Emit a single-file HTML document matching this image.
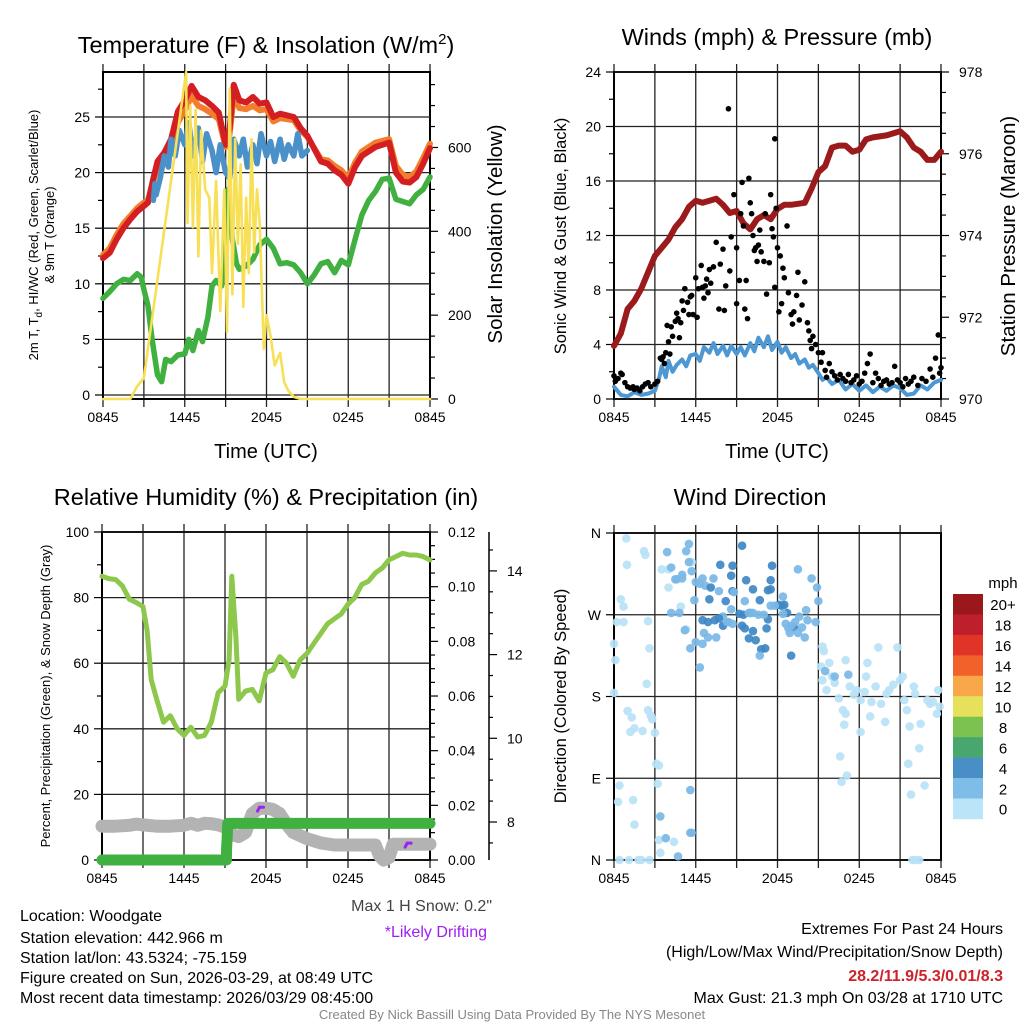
<!DOCTYPE html>
<html><head><meta charset="utf-8">
<style>
body{margin:0;background:#fff}
svg{display:block;font-family:"Liberation Sans",Arial,sans-serif}
</style></head>
<body>
<svg id="chart" width="1024" height="1024" viewBox="0 0 1024 1024">
<rect x="0" y="0" width="1024" height="1024" fill="#fff"/>
<text x="266" y="53" font-size="23.5" text-anchor="middle">Temperature (F) &amp; Insolation (W/m<tspan dy="-9" font-size="15">2</tspan><tspan dy="9">)</tspan></text>
<text x="777" y="45" font-size="23.5" text-anchor="middle">Winds (mph) &amp; Pressure (mb)</text>
<text x="266" y="505" font-size="23.5" text-anchor="middle">Relative Humidity (%) &amp; Precipitation (in)</text>
<text x="750" y="505" font-size="23.5" text-anchor="middle">Wind Direction</text>

<text x="266" y="458" font-size="20" text-anchor="middle">Time (UTC)</text>
<text x="777" y="458" font-size="20" text-anchor="middle">Time (UTC)</text>

<text transform="translate(38,235) rotate(-90)" font-size="13" text-anchor="middle">2m T, T<tspan dy="4" font-size="10">d</tspan><tspan dy="-4">, HI/WC (Red, Green, Scarlet/Blue)</tspan></text>
<text transform="translate(54,235) rotate(-90)" font-size="13" text-anchor="middle">&amp; 9m T (Orange)</text>
<text transform="translate(502,234) rotate(-90)" font-size="20.5" text-anchor="middle">Solar Insolation (Yellow)</text>
<text transform="translate(566,236) rotate(-90)" font-size="16.5" text-anchor="middle">Sonic Wind &amp; Gust (Blue, Black)</text>
<text transform="translate(1015,236) rotate(-90)" font-size="20.5" text-anchor="middle">Station Pressure (Maroon)</text>
<text transform="translate(50,696) rotate(-90)" font-size="13" text-anchor="middle">Percent, Precipitation (Green), &amp; Snow Depth (Gray)</text>
<text transform="translate(566,696) rotate(-90)" font-size="16.5" text-anchor="middle">Direction (Colored By Speed)</text>

<text x="492" y="911" font-size="16" text-anchor="end" fill="#444">Max 1 H Snow: 0.2"</text>
<text x="487" y="937" font-size="16" text-anchor="end" fill="#a020f0">*Likely Drifting</text>

<g font-size="16">
<text x="20" y="921">Location: Woodgate</text>
<text x="20" y="943">Station elevation: 442.966 m</text>
<text x="20" y="963">Station lat/lon: 43.5324; -75.159</text>
<text x="20" y="983">Figure created on Sun, 2026-03-29, at 08:49 UTC</text>
<text x="20" y="1003">Most recent data timestamp: 2026/03/29 08:45:00</text>
</g>
<g font-size="16" text-anchor="end">
<text x="1003" y="934">Extremes For Past 24 Hours</text>
<text x="1003" y="957">(High/Low/Max Wind/Precipitation/Snow Depth)</text>
<text x="1003" y="981" font-weight="bold" fill="#cc2229">28.2/11.9/5.3/0.01/8.3</text>
<text x="1003" y="1003">Max Gust: 21.3 mph On 03/28 at 1710 UTC</text>
</g>
<text x="512" y="1019" font-size="13" text-anchor="middle" fill="#888">Created By Nick Bassill Using Data Provided By The NYS Mesonet</text>
</svg>
<script>
// ---------- data ----------
const timeTickHours=[0,6,12,18,24];
const timeTickLabels=['0845','1445','2045','0245','0845'];
const tempTicks=[0,5,10,15,20,25];
const insTicks=[0,200,400,600];
const windTicks=[0,4,8,12,16,20,24];
const presTicks=[970,972,974,976,978];
const rhTicks=[0,20,40,60,80,100];
const precipTicks=[0,0.02,0.04,0.06,0.08,0.10,0.12];
const snowTicks=[8,10,12,14];
const dirTicks=[0,90,180,270,360];
const dirLabels=['N','E','S','W','N'];

const tempTimes=[0,0.5,1,1.5,2,2.5,3,3.3,3.7,4,4.5,5,5.5,6,6.5,7,7.5,8,8.5,9,9.3,9.6,10,10.5,11,11.5,12,12.5,13,14,14.5,15,16,16.5,17,17.5,18,18.5,19,20,21,21.5,22,22.5,23,23.5,24];
const tempRed=[12.3,12.8,14,15,15.8,16.5,17,17.3,19.5,21,21.8,23,25.5,26.5,27.8,26.8,26.5,26,25.4,22.5,24,27.9,26.5,26.3,26.8,26.2,26.3,25,25.3,25,24,23.3,21,20.8,20.2,19.8,19,20.5,21.5,22.3,22.7,20,19.2,19.1,19.6,20.8,22.2];
const temp9m=[12.6,13.2,14.4,15.4,16.1,16.8,17.3,17.5,19.3,20.6,21.2,22.3,24.5,25.6,26.9,26.0,25.7,25.3,24.8,22.3,23.5,27.0,25.8,25.7,26.0,25.6,25.7,24.6,24.9,24.7,23.8,23.2,21.2,21.1,20.6,20.2,19.5,20.9,21.9,22.7,23.0,20.6,19.8,19.6,20.1,21.3,22.6];
const hiwcTimes=[3.7,3.8,3.9,4.2,4.5,4.8,5,5.3,5.6,6,6.3,6.6,7,7.3,7.6,8,8.3,8.6,9,9.3,9.6,10,10.3,10.6,11,11.3,11.6,12,12.3,12.6,13,13.3,13.6,14,14.3,14.6,15];
const hiwc=[17.5,19,18,19.5,21.5,20.5,23,21.5,23.8,22.5,24.5,21.5,24,21,23.5,22,20,22.5,20,19.5,23,21.5,23,20.5,22.5,20.8,23.5,21.5,22.8,21,23,21.2,22.5,21.5,23.5,21.5,22];
const tdTimes=[0,0.5,1,1.5,2,2.5,2.8,3,3.3,3.6,4,4.3,4.6,5,5.5,6,6.3,6.6,7,7.3,7.7,8,8.3,8.7,9,9.2,9.5,9.8,10,10.5,11,11.5,12,12.5,13,13.5,14,14.5,15,15.5,16,16.5,17,17.5,18,18.5,19,19.5,20,20.5,21,21.5,22,22.5,23,23.5,24];
const dewpoint=[8.7,9.3,10,10.4,10.3,10.9,10.6,9.5,8,5,1.8,1.2,3.2,3,3.6,3.7,5,4,5.8,4.8,7,9.8,10.3,9.8,13,18.5,14,11.8,11.3,11.6,12.2,13.5,14,13.2,11.8,11.9,11.7,11,10,10.8,11.8,12,11,12.1,11.7,14,16.2,17.5,18.3,19.4,19.5,17.6,17.4,17.2,18,18.5,19.6];
const insTimes=[0,2,2.5,3,6.1,6.2,6.4,6.6,6.8,7.0,7.2,7.5,7.8,8,8.3,8.6,8.9,9.1,9.3,9.5,9.7,9.9,10.1,10.3,10.5,10.7,10.9,11.1,11.3,11.5,11.8,12,12.3,12.6,13,13.3,13.6,14,14.5,24];
const insolation=[0,0,30,50,780,420,700,410,690,340,640,500,480,300,520,210,500,160,740,250,620,370,560,220,480,300,620,350,500,420,120,200,150,80,110,40,20,5,0,0];

const presTimes=[0,0.5,1,1.5,2,2.5,3,3.5,4,4.5,5,5.5,6,6.5,7,7.5,8,8.5,9,9.5,10,10.5,11,11.5,12,12.5,13,14,14.5,15,15.5,16,16.5,17,17.5,18,18.5,19,20,21,21.5,22,22.5,23,23.5,24];
const pressure=[971.3,971.6,972.2,972.4,972.7,973.1,973.5,973.7,973.9,974.2,974.4,974.7,974.85,974.8,974.85,974.9,974.75,974.55,974.6,974.3,974.15,974.4,974.5,974.4,974.65,974.75,974.75,974.8,975.15,975.55,975.7,976.15,976.2,976.2,976.05,976.1,976.35,976.4,976.45,976.55,976.4,976.15,976.05,975.85,975.85,976.05];
const sonicTimes=[0,0.5,1,1.5,2,2.5,3,3.3,3.5,3.8,4,4.3,4.6,5,5.3,5.6,6,6.3,6.6,7,7.3,7.6,8,8.3,8.6,9,9.3,9.6,10,10.3,10.6,11,11.3,11.6,12,12.3,12.6,13,13.3,13.6,14,14.3,14.6,15,15.3,15.6,16,16.5,17,17.5,18,18.5,19,19.5,20,20.5,21,21.5,22,22.5,23,23.5,24];
const sonicWind=[0.9,0.3,0.2,0.5,0.3,0.4,0.6,1.5,2.4,1.6,2.8,2.0,2.5,2.9,2.4,3.2,3.3,2.8,3.8,3.4,4.1,3.3,3.9,3.2,3.9,3.3,3.8,3.2,4.1,3.5,4.5,3.8,4.6,3.6,4.2,3.4,3.8,3.0,3.3,2.6,2.9,2.3,2.5,1.9,1.4,1.6,1.1,1.4,0.7,1.1,0.6,1.0,0.5,0.9,0.6,1.0,0.8,0.3,0.4,1.0,0.7,1.2,1.4];
const gustTimes=[0,0.1,0.3,0.5,0.6,0.8,1,1.2,1.4,1.5,1.7,1.9,2.1,2.3,2.5,2.7,3,3.2,3.4,3.5,3.6,3.7,3.8,3.9,4,4.1,4.2,4.3,4.5,4.6,4.7,4.8,4.9,5,5.1,5.2,5.4,5.5,5.6,5.7,5.8,6,6.1,6.2,6.4,6.5,6.6,6.7,6.8,6.9,7,7.1,7.3,7.5,7.7,7.8,8,8.1,8.2,8.4,8.5,8.6,8.8,9,9,9.2,9.3,9.4,9.5,9.6,9.7,9.8,9.9,10,10.1,10.2,10.3,10.4,10.5,10.6,10.7,10.8,11,11.1,11.2,11.4,11.5,11.6,11.7,11.8,11.8,11.9,12,12.1,12.2,12.3,12.4,12.5,12.7,12.8,13,13.1,13.2,13.4,13.5,13.6,13.8,14,14.2,14.3,14.4,14.5,14.6,14.8,15,15.2,15.3,15.5,15.6,15.8,16,16.2,16.4,16.6,16.8,17,17.2,17.4,17.6,17.8,18,18.2,18.4,18.6,18.8,19,19.2,19.4,19.6,19.8,20,20.2,20.4,20.6,20.8,21,21.2,21.4,21.6,21.8,22,22.3,22.6,22.9,23.2,23.4,23.6,23.8,23.9,24];
const gustVals=[1.7,1.3,1.5,1.9,1.8,1.2,0.9,0.8,0.9,0.7,0.8,0.6,0.9,1.1,1.2,0.9,1.1,1.3,3.0,2.9,3.1,2.6,3.4,5.4,4.2,3.3,5.3,4.6,5.7,6.3,5.9,4.5,5.6,7.2,6.5,8.1,7.1,6.2,7.5,7.6,6.2,8.9,6.0,8.1,9.8,8.2,7.4,8.3,8.8,7.8,9.5,8.5,9.7,11.5,6.6,9.9,11.0,6.5,8.3,21.3,9.4,11.9,15.0,11.1,7.0,8.7,13.6,15.9,12.7,6.6,8.7,5.9,16.2,14.4,13.6,12.0,10.9,11.1,10.1,11.3,12.4,10.8,10.1,13.6,7.7,10.0,15.0,12.5,11.9,8.2,19.1,14.0,11.1,6.4,10.5,7.0,9.6,8.9,12.7,7.8,6.2,5.5,6.4,7.6,9.3,5.8,6.9,8.6,5.6,5.0,4.3,3.7,4.6,4.0,3.4,2.7,3.4,2.1,1.6,2.6,2.0,1.7,1.4,1.8,1.5,1.3,1.8,1.2,1.4,1.7,1.1,1.3,1.9,2.6,3.3,1.2,1.9,1.5,1.0,1.3,1.4,1.1,1.2,2.4,1.4,1.2,0.9,1.5,1.1,1.3,1.6,1.0,1.5,1.3,2.2,1.6,3.0,4.7,1.9,2.3];

const rhTimes=[0,0.5,1,1.5,2,2.5,3,3.3,3.6,4,4.5,5,5.5,6,6.5,7,7.5,8,8.5,9,9.3,9.5,9.8,10,10.5,11,11.5,12,12.5,13,13.5,14,14.5,15,15.5,16,16.5,17,17.5,18,18.5,19,19.5,20,20.5,21,21.5,22,22.5,23,23.5,24];
const rhVals=[86.5,85.8,85.5,83.5,79.5,78.5,77.3,70,55,49,42,44,40,38,40.5,37.5,38,42,51,53,61,86.5,68,49,51.5,52,48.5,57,58,62,60,56,61,63,66,69,72,73.5,75,78,80,84,85,87.5,89,91.5,92.5,93.5,93,93,92.5,91.5];
const precipTimes=[0,9.1,9.12,9.15,9.2,24];
const precipVals=[0,0,0.0045,0.0075,0.0134,0.0134];
const snowTimes=[0,1,2,2.5,3,4,5,6,6.5,7,7.5,8,8.5,9,9.5,10,10.5,11,11.5,12,12.5,13,13.5,14,15,16,17,18,19,20,20.3,20.6,21,21.3,22,23,24];
const snowVals=[7.9,7.9,7.92,7.95,7.93,7.9,7.9,7.92,7.97,7.92,7.97,7.96,7.93,7.88,7.7,7.65,7.75,8.2,8.33,8.33,8.3,8.2,7.95,7.75,7.6,7.5,7.45,7.45,7.45,7.45,7.2,7.09,7.15,7.47,7.47,7.47,7.47];
const driftTimes=[11.6,22.4];
const driftVals=[8.33,7.47];

const dirHours=[0.9,0.95,2.2,2.3,3.5,0.7,0.5,0.2,0.7,0,0.1,2.5,2.6,2.4,0,1,1.3,1.5,1.2,2.7,2.8,2.1,2.5,3,3.1,3.3,3.2,0.4,0.3,1.4,1.5,0.4,1.1,1.8,2,2.6,3.4,3.3,4.4,5.3,4.9,5.7,4,4,
3.9,4.2,4.6,4.5,5,5,5.3,5.5,5.5,5.7,6,5.9,4.2,4.8,5.2,6.3,6.5,6.7,7.3,7.7,6,6.5,6.6,6.9,7.5,8,8.4,8.7,6.3,5.6,3.4,5.6,3.8,4.7,5.6,5.7,
7.8,8.7,8.6,8.2,7.0,7.1,6.5,6.9,7.4,7.7,8.0,9.2,9.5,10.0,9.4,9.6,9.9,10.2,10.8,11.1,10.4,11.2,11.5,11.6,11.5,11.3,12.1,12.5,12.7,13.2,13,9.4,8.7,9.7,10.7,10.2,11.3,12.3,
8.8,8.3,8.6,9.9,9.6,10.2,10.6,11.0,11.8,12.4,12.6,12.8,13,12.9,13.3,13.6,13.8,14,14.2,14.5,14.9,15,14.8,13.5,10.7,11.5,13.5,14.1,12.4,
15.3,15.4,15.2,15.3,15.8,16,16.2,15.6,16.5,16.8,17,16.9,16.6,17.1,16.7,17,17.3,17.6,17.8,18.1,18.1,18.4,18.5,18.6,19.4,18.8,18.9,19.2,19.6,19.9,20,20.2,20.5,20.8,21,21.2,21.3,21.5,21.7,21.6,21.8,22,22.1,22.4,22.5,22.8,23,23.2,23.4,23.7,23.8,23.9,21.9,22.1,22.4,16.2,17.2,15.5];
const dirDegs=[354,325,340,336,320,279,287,262,262,238,220,263,233,194,184,164,157,145,141,159,155,142,165,140,106,104,84,82,64,66,39,0,0,0,0,0,8,22,20,254,279,328,320,300,
339,322,309,309,314,310,340,348,328,318,306,286,272,272,253,304,310,302,310,296,240,238,250,245,245,268,262,260,212,233,48,30,24,4,77,30,
325,296,313,285,287,300,264,262,264,266,258,271,270,272,258,255,244,252,232,233,242,255,308,324,298,297,281,281,272,256,225,346,324,308,286,298,265,280,
295,262,276,272,285,272,270,270,280,271,260,255,258,250,262,268,256,245,264,310,300,285,262,320,225,280,250,275,290,
235,230,213,198,217,202,195,187,178,165,161,149,114,93,86,220,191,182,187,176,141,185,202,217,234,158,174,191,172,152,183,187,193,234,198,202,176,165,147,106,72,191,183,123,150,82,176,172,174,161,187,169,0,0,0,202,204,208];
const dirSpeeds=[1,1,1,1,1,1,1,1,1,1,1,1,1,1,1,1,1,1,1,1,1,1,1,1,1,1,1,1,1,1,1,1,1,1,1,1,1,1,1,1,1,1,1,1,
3,3,3,3,3,3,3,3,3,3,3,3,3,3,3,3,3,3,3,3,3,3,3,3,3,3,3,3,3,3,3,3,3,3,3,3,
5,5,5,5,5,5,5,5,5,5,5,5,5,5,5,5,5,5,5,5,5,5,5,5,5,5,5,5,5,5,5,5,5,5,5,5,5,5,
3,3,3,3,3,3,3,3,3,3,3,3,3,3,3,3,3,3,3,3,3,3,3,3,3,3,3,3,3,
1,1,1,1,1,1,1,1,1,1,1,1,1,1,1,1,1,1,1,1,1,1,1,1,1,1,1,1,1,1,1,1,1,1,1,1,1,1,1,1,1,1,1,1,1,1,1,1,1,1,1,1,1,1,1,3,3,3];

const cbarLabels=['20+','18','16','14','12','10','8','6','4','2','0'];
const cbarColors=['#9a171c','#bf1e2b','#df3427','#f0622a','#f8a848','#e7e05a','#7cc250','#47a76e','#4a8ec8','#7dbde7','#bce4f8'];

// ---------- helpers ----------
const NS='http://www.w3.org/2000/svg';
const svg=document.getElementById('chart');
function mk(tag,attrs,parent){const e=document.createElementNS(NS,tag);for(const k in attrs)e.setAttribute(k,attrs[k]);(parent||svg).appendChild(e);return e;}
function txt(x,y,s,size,anchor,parent){const e=mk('text',{x:x,y:y,'font-size':size,'text-anchor':anchor},parent);e.textContent=s;return e;}
function pathD(ts,vs,xf,yf){let d='';for(let i=0;i<ts.length;i++){d+=(i?'L':'M')+xf(ts[i]).toFixed(1)+' '+yf(vs[i]).toFixed(1);}return d;}

function frame(name,x0,x1,yT,yB){
  const g=mk('g',{});
  
  
  const xf=h=>x0+h*(x1-x0)/24;
  for(let h=0;h<=24;h+=3){
    const l=mk('line',{x1:xf(h),x2:xf(h),y1:yT-8,y2:yB+8,stroke:'#222','stroke-width':1.3},g);
    
    
  }
  for(let i=0;i<timeTickHours.length;i++){
    const t=txt(xf(timeTickHours[i]),yB+23,timeTickLabels[i],14,'middle',g);
    
    
  }
  const r=mk('rect',{x:x0,y:yT,width:x1-x0,height:yB-yT,fill:'none',stroke:'#000','stroke-width':2},g);
  
  
  return {g,xf};
}
function hgrid(g,x0,x1,y,name){const l=mk('line',{x1:x0,x2:x1,y1:y,y2:y,stroke:'#222','stroke-width':1.3},g);
  
  }
function ytick(g,x,y,len,lab,side,size){
  const l=mk('line',{x1:x,x2:x+len,y1:y,y2:y,stroke:'#000','stroke-width':1.2},g);
  
  
  if(lab!==null){const t=txt(side==='left'?x+len-5:x+len+10,y+5,lab,size||14,side==='left'?'end':'start',g);
    
    }
}
function series(name,d,color,w,parent,cap){const p=mk('path',{d:d,fill:'none',stroke:color,'stroke-width':w,'stroke-linejoin':'round','stroke-linecap':cap||'round'},parent);
  
  return p;}

// ---------- Temperature panel ----------
(function(){
  const x0=103,x1=430,yT=72,yB=399;
  const F=frame('temperature-panel',x0,x1,yT,yB);const g=F.g,xf=F.xf;
  const yT_=v=>395-v*11.12;const yI=v=>399-v*0.4192;
  for(const v of tempTicks)hgrid(g,x0,x1,yT_(v),'temp-gridline');
  for(let v=0;v<=27.5;v+=2.5){const major=v%5===0;ytick(g,x0,yT_(v),major?-8:-5,major?String(v):null,'left');}
  for(let v=0;v<=750;v+=50){const major=v%200===0;ytick(g,x1,yI(v),major?8:5,major?String(v):null,'right');}
  series('9m-temperature-line',pathD(tempTimes,temp9m,xf,yT_),'#f27e2c',6,g);
  series('2m-temperature-line',pathD(tempTimes,tempRed,xf,yT_),'#d41f22',6,g);
  series('heat-index-windchill-line',pathD(hiwcTimes,hiwc,xf,yT_),'#4a90c9',5.5,g);
  series('dewpoint-line',pathD(tdTimes,dewpoint,xf,yT_),'#40b040',5.5,g);
  series('insolation-line',pathD(insTimes,insolation,xf,yI),'#f7df56',2.6,g);
})();

// ---------- Winds panel ----------
(function(){
  const x0=614,x1=941,yT=72,yB=399;
  const F=frame('winds-panel',x0,x1,yT,yB);const g=F.g,xf=F.xf;
  const yW=v=>399-v*327/24;const yP=v=>399-(v-970)*40.875;
  for(const v of windTicks)hgrid(g,x0,x1,yW(v),'wind-gridline');
  for(let v=0;v<=24;v+=2){const major=v%4===0;ytick(g,x0,yW(v),major?-8:-5,major?String(v):null,'left');}
  for(let v=970;v<=978.01;v+=0.5){const major=Math.abs(v-Math.round(v))<0.01&&Math.round(v)%2===0;ytick(g,x1,yP(v),major?8:5,major?String(Math.round(v)):null,'right');}
  series('pressure-line',pathD(presTimes,pressure,xf,yP),'#9b1b1d',6,g);
  series('sonic-wind-line',pathD(sonicTimes,sonicWind,xf,yW),'#4d97d3',4,g);
  for(let i=0;i<gustTimes.length;i++){
    const c=mk('circle',{cx:xf(gustTimes[i]),cy:yW(gustVals[i]),r:2.8,fill:'#000'},g);
    
    
  }
})();

// ---------- Humidity panel ----------
(function(){
  const x0=102,x1=430,yT=532,yB=860;
  const F=frame('humidity-panel',x0,x1,yT,yB);const g=F.g,xf=F.xf;
  const yR=v=>860-v*3.28;const yPr=v=>860-v*2733;const yS=v=>822-(v-8)*41.85;
  for(const v of rhTicks)hgrid(g,x0,x1,yR(v),'humidity-gridline');
  for(let v=0;v<=100;v+=10){const major=v%20===0;ytick(g,x0,yR(v),major?-8:-5,major?String(v):null,'left');}
  for(let i=0;i<=24;i++){const v=i*0.005;const major=i%4===0;ytick(g,x1,yPr(v),major?8:5,major?v.toFixed(2):null,'right');}
  const ax=mk('line',{x1:489,x2:489,y1:532,y2:860,stroke:'#000','stroke-width':1.5},g);
  
  
  for(let v=7.5;v<=14.8;v+=0.5){const major=snowTicks.indexOf(v)>=0;ytick(g,489,yS(v),major?8:4,major?String(v):null,'right');}
  series('snow-depth-line',pathD(snowTimes,snowVals,xf,yS),'#b3b3b3',13,g);
  series('precipitation-line',pathD(precipTimes,precipVals,xf,yPr),'#40b040',11,g);
  for(let i=0;i<driftTimes.length;i++){
    const p=mk('path',{d:'M'+(xf(driftTimes[i])-3)+' '+(yS(driftVals[i])+3)+'L'+(xf(driftTimes[i])-1)+' '+(yS(driftVals[i])-1)+'L'+(xf(driftTimes[i])+3)+' '+(yS(driftVals[i])-1),stroke:'#a020f0','stroke-width':3,fill:'none','stroke-linecap':'round'},g);
    
    
  }
  series('relative-humidity-line',pathD(rhTimes,rhVals,xf,yR),'#8dc84c',5,g);
})();

// ---------- Wind direction panel ----------
(function(){
  const x0=614,x1=941,yT=533,yB=860;
  const F=frame('wind-direction-panel',x0,x1,yT,yB);const g=F.g,xf=F.xf;
  const yD=v=>860-v*327/360;
  for(const v of dirTicks)hgrid(g,x0,x1,yD(v),'direction-gridline');
  for(let i=0;i<dirTicks.length;i++)ytick(g,x0,yD(dirTicks[i]),-8,dirLabels[i],'left');
  const col=s=>s>=4?'#3f87c4':(s>=2?'#7ab9e6':'#b9e2f7');
  for(let i=0;i<dirHours.length;i++){
    const c=mk('circle',{cx:xf(dirHours[i]),cy:yD(dirDegs[i]),r:4.3,fill:col(dirSpeeds[i]),'fill-opacity':0.92},g);
    
    
  }
  const cb=mk('g',{});
  
  
  const t=txt(1003,588,'mph',15,'middle',cb);
  
  
  const h=20.45;
  for(let i=0;i<cbarLabels.length;i++){
    const r=mk('rect',{x:953,y:594+i*h,width:30,height:h+0.3,fill:cbarColors[i]},cb);
    
    
    const l=txt(1003,594+i*h+h/2+6,cbarLabels[i],15,'middle',cb);
    
    
  }
})();
</script>
</body></html>
